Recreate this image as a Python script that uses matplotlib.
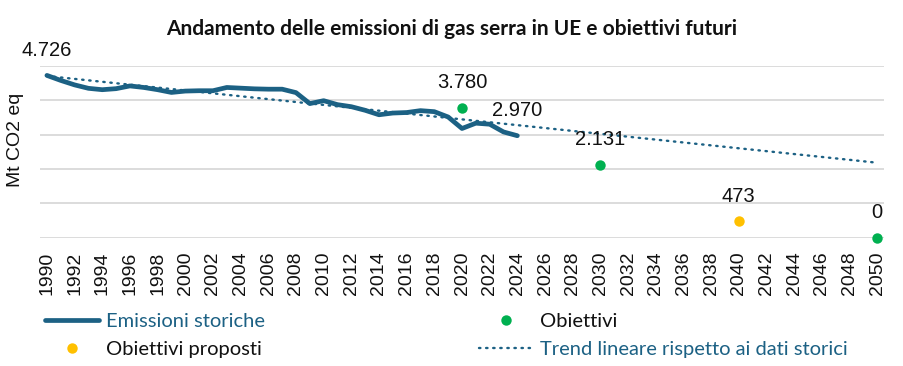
import numpy as np
import matplotlib
matplotlib.use("Agg")
import matplotlib.pyplot as plt
from matplotlib.lines import Line2D

# historical EU greenhouse gas emissions (Mt CO2 eq)
years_hist = list(range(1990, 2025))
emissions = [4726, 4580, 4450, 4350, 4310, 4340, 4420, 4375, 4310, 4230,
             4270, 4280, 4280, 4375, 4355, 4335, 4325, 4325, 4225, 3905,
             3990, 3875, 3815, 3710, 3580, 3630, 3645, 3700, 3670, 3515,
             3180, 3335, 3305, 3080, 2970]

# targets
target_years = [2020, 2030, 2050]
target_vals = [3780, 2131, 0]
proposed_years = [2040]
proposed_vals = [473]

all_years = list(range(1990, 2051))
label_pts = [(1990, 4726, "4.726"), (2024, 2970, "2.970"), (2020, 3780, "3.780"),
             (2030, 2131, "2.131"), (2040, 473, "473"), (2050, 0, "0")]

BLUE = "#1c6184"
GREEN = "#00b050"
YELLOW = "#ffc000"
SANS = "Liberation Sans"

fig = plt.figure(figsize=(9.04, 3.66), dpi=100)
ax = fig.add_axes([40 / 904, 1 - 237.7 / 366, 844 / 904, 171.7 / 366])

# linear trend on historical data, extended to 2050
coef = np.polyfit(years_hist, emissions, 1)
trend = np.polyval(coef, all_years)

ax.plot(all_years, trend, color=BLUE, lw=1.7, ls=(0, (0.6, 2.4)),
        dash_capstyle="round", zorder=3)
ax.plot(years_hist, emissions, color=BLUE, lw=3.4, solid_capstyle="round",
        solid_joinstyle="round", zorder=4)
ax.plot(target_years, target_vals, "o", color=GREEN, ms=7.5, mew=0,
        clip_on=False, zorder=5)
ax.plot(proposed_years, proposed_vals, "o", color=YELLOW, ms=7.5, mew=0,
        clip_on=False, zorder=5)

for x, y, s in label_pts:
    ax.annotate(s, (x, y), xytext=(0, 18), textcoords="offset points",
                ha="center", va="center", fontsize=14.5, family=SANS,
                color="#111111", zorder=6, annotation_clip=False)

ax.set_xlim(1989.5, 2050.5)
ax.set_ylim(0, 5000)
ax.set_yticks(range(0, 5001, 1000))
ax.set_yticklabels([])
ax.set_xticks(range(1990, 2051, 2))
ax.set_xticklabels([str(y) for y in range(1990, 2051, 2)], rotation=90,
                   fontsize=14, family=SANS, color="#111111")
ax.tick_params(length=0, pad=10)
ax.grid(axis="y", color="#d9d9d9", lw=1.3)
ax.set_axisbelow(True)
for sp in ax.spines.values():
    sp.set_visible(False)

ax.set_ylabel("Mt CO2 eq", fontsize=14, family=SANS, color="#111111")
ax.yaxis.set_label_coords(-0.019, 0.57)

fig.text(0.5, 1 - 29 / 366, "Andamento delle emissioni di gas serra in UE e obiettivi futuri",
         ha="center", va="center", fontsize=15, family="Lato",
         fontweight="bold", color="#111111")

handles = [
    Line2D([], [], color=BLUE, lw=3.4, solid_capstyle="round"),
    Line2D([], [], ls="none", marker="o", color=YELLOW, ms=7.5, mew=0),
    Line2D([], [], ls="none", marker="o", color=GREEN, ms=7.5, mew=0),
    Line2D([], [], color=BLUE, lw=1.7, ls=(0, (0.6, 2.4)), dash_capstyle="round"),
]
labels = ["Emissioni storiche", "Obiettivi proposti", "Obiettivi",
          "Trend lineare rispetto ai dati storici"]
leg = fig.legend(handles, labels, ncol=2, loc="upper left",
                 bbox_to_anchor=(45 / 904, 1 - 313 / 366), frameon=False,
                 borderpad=0, borderaxespad=0, handlelength=2.7,
                 handletextpad=0.35, columnspacing=10.6, labelspacing=0.55,
                 prop={"family": "Lato", "size": 14.5})
for t, c in zip(leg.get_texts(), [BLUE, "#111111", "#111111", BLUE]):
    t.set_color(c)

fig.savefig("out.png", dpi=100)
